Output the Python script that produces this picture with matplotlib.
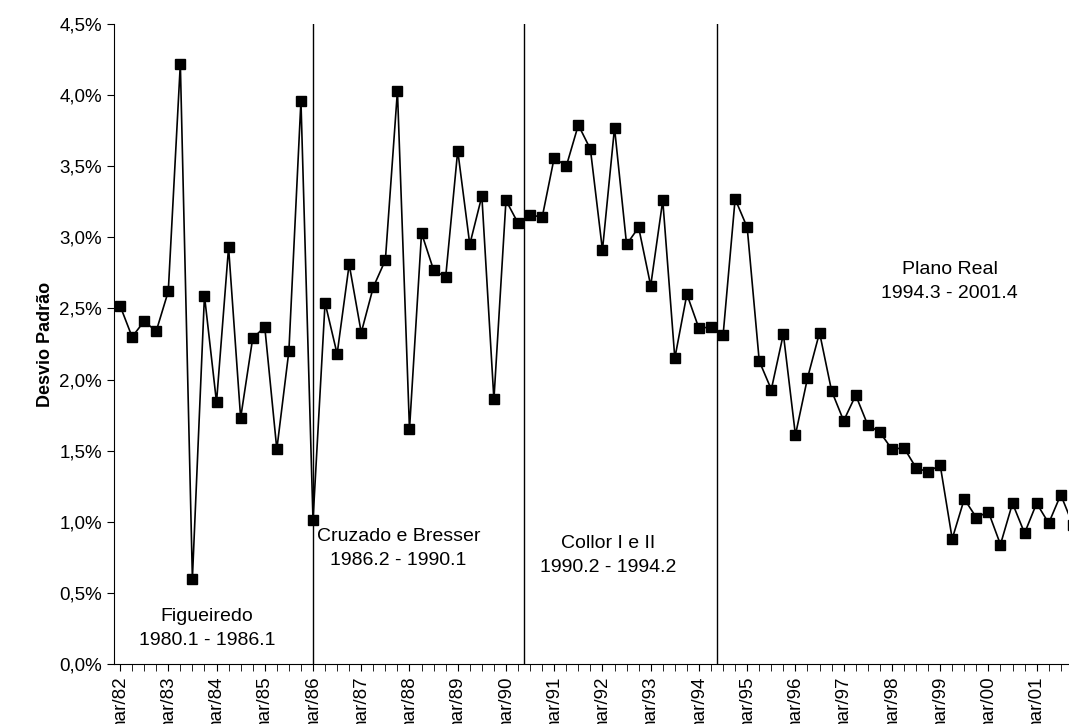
import matplotlib
matplotlib.use("Agg")
import matplotlib.pyplot as plt
from matplotlib.ticker import FuncFormatter, MultipleLocator

plt.rcParams['font.family'] = ['Liberation Sans', 'DejaVu Sans']

values = [2.52, 2.30, 2.41, 2.34, 2.62, 4.22, 0.60, 2.59, 1.84, 2.93, 1.73, 2.29, 2.37, 1.51, 2.20, 3.96, 1.01,
          2.54, 2.18, 2.81, 2.33, 2.65, 2.84, 4.03, 1.65, 3.03, 2.77, 2.72, 3.61, 2.95, 3.29, 1.86, 3.26, 3.10,
          3.16, 3.14, 3.56, 3.50, 3.79, 3.62, 2.91, 3.77, 2.95, 3.07, 2.66, 3.26, 2.15, 2.60, 2.36, 2.37,
          2.31, 3.27, 3.07, 2.13, 1.93, 2.32, 1.61, 2.01, 2.33, 1.92, 1.71, 1.89, 1.68, 1.63, 1.51, 1.52, 1.38,
          1.35, 1.40, 0.88, 1.16, 1.03, 1.07, 0.84, 1.13, 0.92, 1.13, 0.99, 1.19, 0.98]
tick_labels = ["mar/%02d" % (y % 100) for y in range(1982, 2002)]
period_bounds = [16, 33.5, 49.5]
period_labels = [("Figueiredo\n1980.1 - 1986.1", 7.2, 0.25),
                 ("Cruzado e Bresser\n1986.2 - 1990.1", 23.1, 0.81),
                 ("Collor I e II\n1990.2 - 1994.2", 40.5, 0.76),
                 ("Plano Real\n1994.3 - 2001.4", 68.8, 2.69)]

fig = plt.figure(figsize=(10.69, 7.24), dpi=100)
ax = fig.add_axes([114/1069, 1-664/724, (1068-114)/1069, (664-24)/724])
x = list(range(len(values)))
ax.plot(x, values, color='black', lw=1.2, marker='s', ms=7, mfc='black', mec='black', clip_on=True)
ax.set_xlim(-0.5, 78.6)
ax.set_ylim(0, 4.5)
ax.yaxis.set_major_locator(MultipleLocator(0.5))
ax.yaxis.set_major_formatter(FuncFormatter(lambda v, p: ("%.1f%%" % v).replace('.', ',')))
ax.set_xticks(range(0, 77, 4))
ax.set_xticklabels(tick_labels, rotation=90)
ax.xaxis.set_minor_locator(MultipleLocator(1))
ax.tick_params(axis='x', which='both', length=5, labelsize=13.5)
ax.tick_params(axis='y', length=5, labelsize=13.5)
for s in ['top', 'right']:
    ax.spines[s].set_visible(False)
for b in period_bounds:
    ax.axvline(b, color='black', lw=1)
for t, px, py in period_labels:
    ax.text(px, py, t, ha='center', va='center', fontsize=14, linespacing=1.55)
ax.set_ylabel("Desvio Padrão", fontsize=13, fontweight='bold')
fig.savefig("out.png", dpi=100)
